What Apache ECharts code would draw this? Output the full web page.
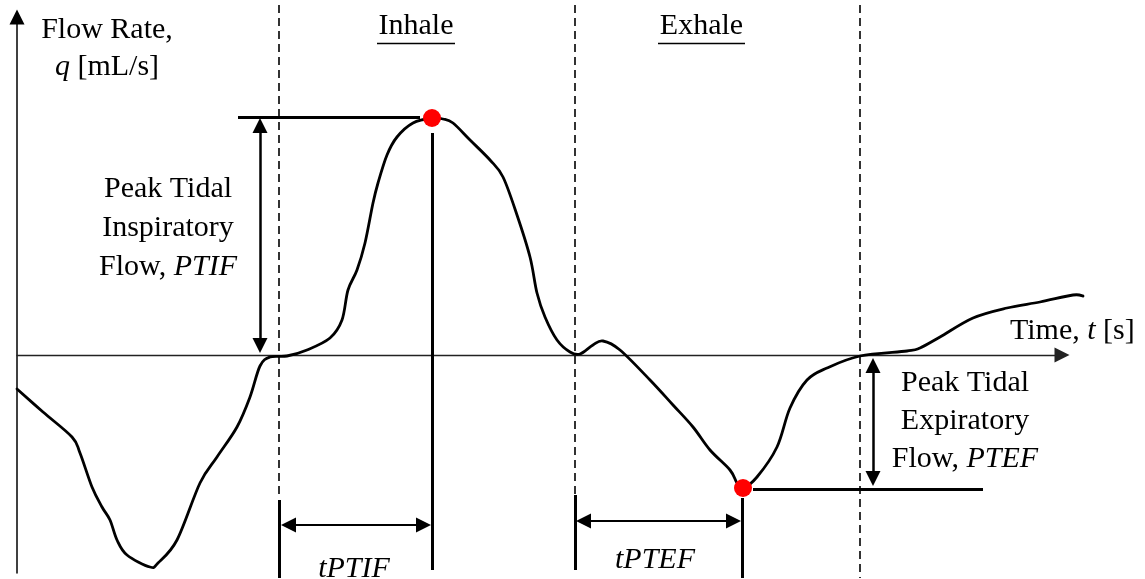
<!DOCTYPE html>
<html>
<head>
<meta charset="utf-8">
<script src="https://cdn.jsdelivr.net/npm/echarts@6/dist/echarts.min.js"></script>
<style>
  html, body { margin: 0; padding: 0; background: #fff; }
  #chart { width: 1145px; height: 579px; }
</style>
</head>
<body>
<div id="chart"></div>
<script>
// Tidal breathing flow trace: time in s, flow in mL/s (schematic units)
const time = [0, 0.26, 0.55, 0.63, 0.75, 0.85, 0.93, 1.00, 1.10, 1.33,
  1.41, 1.60, 1.83, 2.00, 2.20, 2.33, 2.43, 2.53, 2.70, 2.90,
  3.13, 3.25, 3.31, 3.40, 3.48, 3.56, 3.61, 3.70, 3.80, 3.96,
  4.15, 4.26, 4.36, 4.53, 4.73, 4.86, 5.00, 5.13, 5.20, 5.28,
  5.40, 5.53, 5.63, 5.76, 5.86, 6.03, 6.33, 6.56, 6.76, 6.93,
  7.13, 7.20, 7.26, 7.40, 7.60, 7.73, 7.90, 8.10, 8.43, 8.90,
  9.03, 9.23, 9.56, 9.90, 10.23, 10.56, 10.66];
const flow = [-34, -57, -82, -98, -132, -152, -165, -185, -200, -212,
  -208, -185, -128, -102, -72, -42, -11, -2, -1, 5,
  17, 35, 65, 85, 112, 152, 172, 200, 218, 232,
  237, 236, 232, 215, 195, 178, 140, 98, 62, 38,
  15, 3, 1, 10, 14, 5, -25, -50, -72, -95,
  -115, -128, -133, -122, -92, -53, -25, -13, -1, 4,
  7, 18, 37, 47, 53, 60, 59];

// Phase boundaries: inhale start, exhale start, exhale end (s)
const phaseStart = [2.62, 5.58, 8.43];
// Peak points [time, flow]: inspiratory peak and expiratory peak
const peakInspiratory = [4.15, 237];
const peakExpiratory = [7.26, -133];
const phaseNames = ['Inhale', 'Exhale'];

const FONT = 'Liberation Serif';

// helper: a straight segment between two data points
function seg(a, b, style, symA, symB) {
  return [
    { coord: a, symbol: symA || 'none', symbolSize: [15, 15], lineStyle: style },
    { coord: b, symbol: symB || 'none', symbolSize: [15, 15] }
  ];
}
const solid = { color: '#000', width: 3, type: 'solid' };
const dashed = { color: '#000', width: 1.6, type: [8, 5] };
const arrowV = { color: '#000', width: 2.5, type: 'solid' };
const arrowH = { color: '#000', width: 2, type: 'solid' };
const thin = { color: '#000', width: 1.4, type: 'solid' };

const tI = peakInspiratory[0], qI = peakInspiratory[1];
const tE = peakExpiratory[0], qE = peakExpiratory[1];
const h = 7.5;        // half arrow-head length in flow units
const hT = 0.075;     // half arrow-head length in time units

const lines = [
  // phase boundaries
  seg([phaseStart[0], 350], [phaseStart[0], -143], dashed),
  seg([phaseStart[1], 350], [phaseStart[1], -140], dashed),
  seg([phaseStart[2], 350], [phaseStart[2], -223], dashed),
  // timing ticks
  seg([phaseStart[0], -145], [phaseStart[0], -223], solid),
  seg([tI, qI - 15], [tI, -215], solid),
  seg([phaseStart[1], -140], [phaseStart[1], -215], solid),
  seg([tE - 0.01, -143], [tE - 0.01, -223], solid),
  // peak levels
  seg([2.21, qI + 1], [4.03, qI + 1], solid),
  seg([7.36, qE - 1], [9.66, qE - 1], solid),
  // PTIF / PTEF magnitude arrows
  seg([2.43, qI - h], [2.43, 2 + h], arrowV, 'triangle', 'triangle'),
  seg([8.56, -3 - h], [8.56, qE + 2 + h], arrowV, 'triangle', 'triangle'),
  // time-to-peak arrows
  seg([phaseStart[0] + 0.02 + hT, -170], [tI - 0.01 - hT, -170], arrowH, 'triangle', 'triangle'),
  seg([phaseStart[1] + 0.01 + hT, -166], [tE - 0.02 - hT, -166], arrowH, 'triangle', 'triangle'),
  // phase title underlines
  seg([3.60, 312], [4.38, 312], thin),
  seg([6.41, 312], [7.28, 312], thin)
];

const rich = {
  i: { fontFamily: FONT, fontSize: 30, fontStyle: 'italic', color: '#000' }
};
function txt(t, q, text, lh, align) {
  const L = lh || 36;
  return {
    value: [t, q],
    label: {
      show: true, position: 'inside', formatter: text,
      fontFamily: FONT, fontSize: 30, color: '#000',
      align: align || 'center', verticalAlign: 'middle',
      lineHeight: L,
      rich: { i: Object.assign({}, rich.i, { lineHeight: L }) }
    }
  };
}

const texts = [
  txt(0.90, 306.5, 'Flow Rate,\n{i|q} [mL/s]', 37),
  txt(3.99, 329, phaseNames[0]),
  txt(6.845, 329, phaseNames[1]),
  txt(1.51, 127, 'Peak Tidal\nInspiratory\nFlow, {i|PTIF}', 39),
  txt(9.48, -66, 'Peak Tidal\nExpiratory\nFlow, {i|PTEF}', 38),
  txt(9.93, 24, 'Time, {i|t} [s]', 36, 'left'),
  txt(3.37, -214, '{i|tPTIF}'),
  txt(6.38, -205, '{i|tPTEF}')
];

// Smooth trace through the flow samples (Catmull-Rom spline in screen space)
function renderTrace(params, api) {
  if (params.dataIndex !== 0) return null;
  const pts = time.map((t, k) => api.coord([t, flow[k]]));
  const n = pts.length;
  let d = 'M' + pts[0][0] + ' ' + pts[0][1];
  for (let k = 0; k < n - 1; k++) {
    const p0 = pts[Math.max(k - 1, 0)];
    const p1 = pts[k];
    const p2 = pts[k + 1];
    const p3 = pts[Math.min(k + 2, n - 1)];
    const c1x = p1[0] + (p2[0] - p0[0]) / 6, c1y = p1[1] + (p2[1] - p0[1]) / 6;
    const c2x = p2[0] - (p3[0] - p1[0]) / 6, c2y = p2[1] - (p3[1] - p1[1]) / 6;
    d += ' C' + c1x + ' ' + c1y + ' ' + c2x + ' ' + c2y + ' ' + p2[0] + ' ' + p2[1];
  }
  return {
    type: 'path',
    shape: { pathData: d },
    style: { stroke: '#000', lineWidth: 2.8, fill: null, lineJoin: 'round', lineCap: 'round' }
  };
}

const hidden = {
  type: 'value',
  axisLine: { show: false },
  axisTick: { show: false },
  axisLabel: { show: false },
  splitLine: { show: false }
};

const chart = echarts.init(document.getElementById('chart'), null, { renderer: 'canvas' });
chart.setOption({
  animation: false,
  backgroundColor: '#fff',
  grid: [
    // visible axes (arrow tips at the ends)
    { left: 17, right: 83, top: 17, bottom: 6 },
    // full-page plotting frame on the same scale (100 px per s, 1 px per mL/s)
    { left: 0, right: 0, top: 0, bottom: 0 }
  ],
  xAxis: [
    Object.assign({}, hidden, {
      gridIndex: 0, min: 0, max: 10.45,
      axisLine: { show: true, onZero: true, symbol: ['none', 'triangle'], symbolSize: [15, 15],
        lineStyle: { color: '#222', width: 1.3 } }
    }),
    Object.assign({}, hidden, { gridIndex: 1, min: -0.17, max: 11.28 })
  ],
  yAxis: [
    Object.assign({}, hidden, {
      gridIndex: 0, min: -218, max: 338,
      axisLine: { show: true, onZero: true, symbol: ['none', 'triangle'], symbolSize: [15, 15],
        lineStyle: { color: '#000', width: 1.5 } }
    }),
    Object.assign({}, hidden, { gridIndex: 1, min: -224, max: 355 })
  ],
  series: [
    {
      name: 'annotations',
      type: 'line',
      xAxisIndex: 1, yAxisIndex: 1,
      data: [],
      silent: true,
      markLine: {
        silent: true,
        animation: false,
        symbol: ['none', 'none'],
        label: { show: false },
        emphasis: { disabled: true },
        data: lines
      }
    },
    {
      name: 'flow',
      type: 'custom',
      xAxisIndex: 1, yAxisIndex: 1,
      coordinateSystem: 'cartesian2d',
      data: time.map((t, k) => [t, flow[k]]),
      renderItem: renderTrace,
      silent: true,
      z: 3
    },
    {
      name: 'peaks',
      type: 'scatter',
      xAxisIndex: 1, yAxisIndex: 1,
      data: [peakInspiratory, peakExpiratory],
      symbolSize: 18,
      itemStyle: { color: '#ff0000', opacity: 1 },
      z: 5
    },
    {
      name: 'labels',
      type: 'scatter',
      xAxisIndex: 1, yAxisIndex: 1,
      data: texts,
      symbolSize: 1,
      itemStyle: { color: 'rgba(255,255,255,0)', opacity: 1 },
      silent: true,
      z: 6
    }
  ]
});
</script>
</body>
</html>
